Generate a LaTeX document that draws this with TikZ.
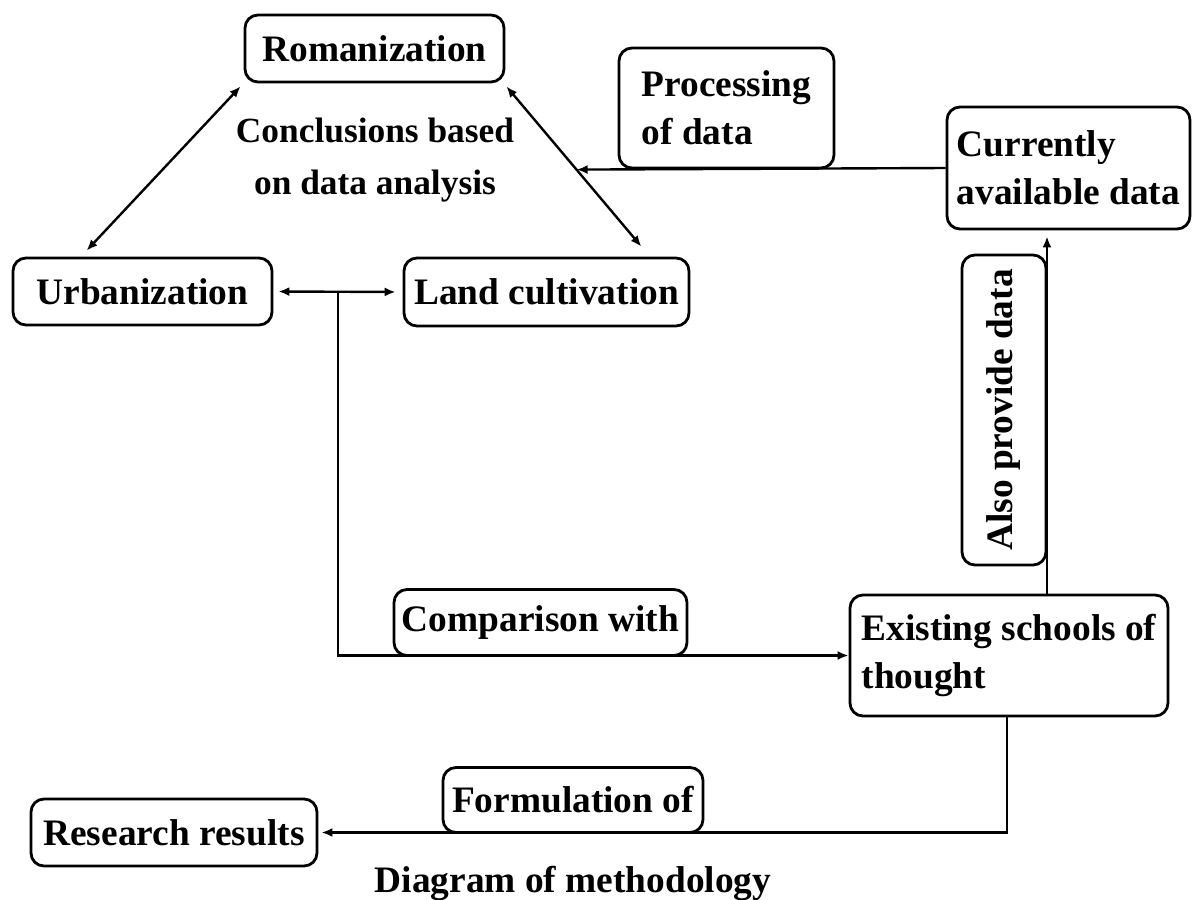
\documentclass[tikz,border=0pt]{standalone}
\usepackage{fontspec}
\setmainfont{Liberation Serif}
\usetikzlibrary{arrows.meta,calc}
\begin{document}
\begin{tikzpicture}[x=1bp,y=-1bp,
  txt/.style={font=\bfseries\fontsize{37.5}{48}\selectfont, inner sep=0pt},
  box/.style={txt, draw, line width=2.8bp, rounded corners=13bp},
  conn/.style={line width=2.4bp},
  tip/.style={conn,-{Latex[length=11bp,width=9bp]}},
  dbl/.style={conn,{Latex[length=11bp,width=9bp]}-{Latex[length=11bp,width=9bp]}}
]
\useasboundingbox (0,0) rectangle (1192,900);

% boxes
\node[box, minimum width=259bp, minimum height=67bp] (rom) at (374.5,48.5) {Romanization};
\node[box, minimum width=259bp, minimum height=67bp] (urb) at (142.5,291.5) {Urbanization};
\node[box, minimum width=285bp, minimum height=68bp] (land) at (546.5,292) {Land cultivation};
\node[box, minimum width=215bp, minimum height=120bp, align=left] (proc) at (726.5,108) {Processing\\of data};
\node[box, minimum width=243bp, minimum height=122bp, align=left] (cur) at (1068.5,168) {Currently\\available data};
\node[box, rotate=90, minimum width=310bp, minimum height=84bp] (also) at (1004,410) {Also provide data};
\node[box, minimum width=293bp, minimum height=66bp] (comp) at (540.5,622.5) {Comparison with};
\node[box, minimum width=318bp, minimum height=121bp, align=left] (exist) at (1009,655.5) {Existing schools of\\thought};
\node[box, minimum width=260bp, minimum height=65bp] (form) at (573,800) {Formulation of};
\node[box, minimum width=286bp, minimum height=67bp] (res) at (174,832.5) {Research results};

% free texts
\node[txt, align=center, font=\bfseries\fontsize{35.5}{53}\selectfont] (concl) at (375,160) {Conclusions based\\on data analysis};
\node[txt, anchor=base] (title) at (573,892) {Diagram of methodology};

% helper coordinates
\coordinate (ra) at ($(rom.south east)+(1,3)$);
\coordinate (la) at ($(land.north east)+(-49,-10)$);
\coordinate (ua) at ($(urb.north west)+(75,-6)$);
\coordinate (j) at ($(urb.east)!0.5!(land.west)$);
\coordinate (v) at (1047,0);
\coordinate (w) at (1007,0);

% connectors
\draw[dbl] ($(rom.south west)+(-3,3)$) -- (ua);
\draw[dbl] (ra) -- (la);
\draw[tip] (cur.west) -- (intersection of ra--la and cur.west--proc.south west);
\draw[dbl, shorten <=5bp, shorten >=7bp] (urb.east) -- (land.west);
\draw[tip] (j) |- (exist.west);
\draw[tip, shorten >=6bp] (exist.north -| v) -- (cur.south -| v);
\draw[tip, shorten >=3bp] (exist.south -| w) |- (res.east);
\end{tikzpicture}
\end{document}
